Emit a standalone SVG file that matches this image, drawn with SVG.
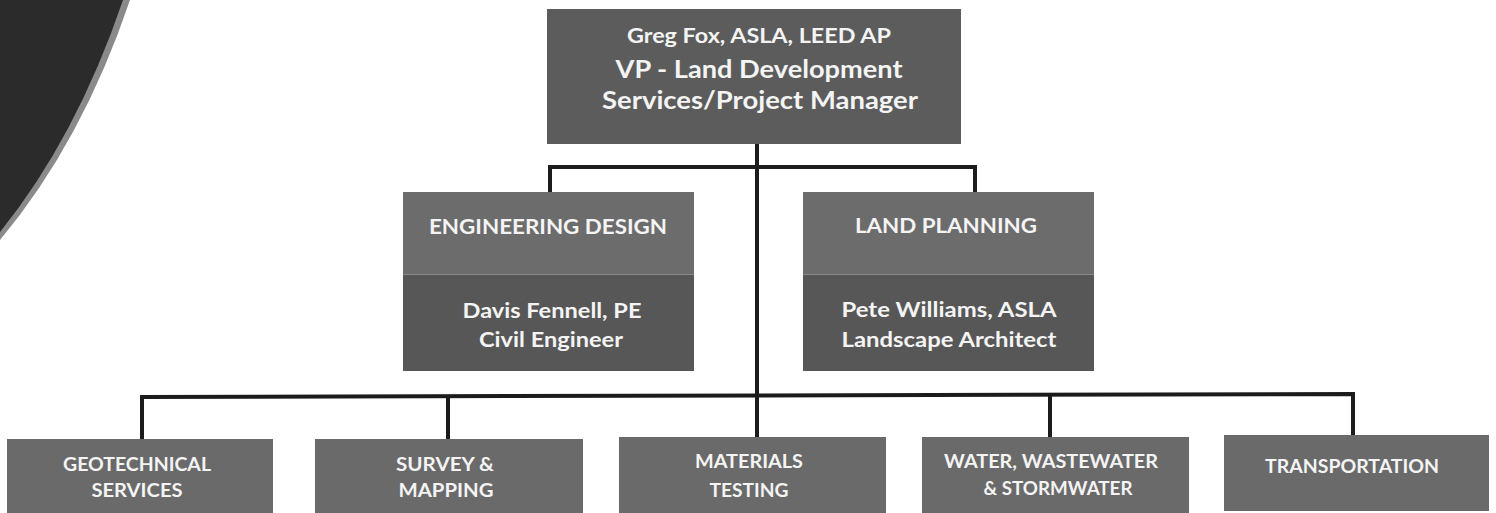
<svg xmlns="http://www.w3.org/2000/svg" width="1496" height="513" viewBox="0 0 1496 513">
<style>
.t{font-family:Lato,"Liberation Sans",sans-serif;font-weight:bold;fill:#f4f4f4;text-anchor:middle}
.s{font-size:19.5px}
.box{fill:#6a6a6a}
.hd{fill:#6c6c6c}
.bd{fill:#575757}
.ln{stroke:#1c1c1c;stroke-width:4;fill:none;stroke-linecap:square}
</style>
<rect width="1496" height="513" fill="#ffffff"/>
<g id="corner">
<path d="M0,0 L130,0 Q82,142 0,240 Z" fill="#8a8a8a"/>
<path d="M0,0 L123,0 Q76,138 0,232 Z" fill="#2b2b2b"/>
</g>
<g id="connectors">
<line class="ln" x1="757" y1="144" x2="757" y2="437"/>
<polyline class="ln" points="550,192 550,167 975,167 975,192"/>
<polyline class="ln" points="142,439 142,397 1353,394 1353,435"/>
<line class="ln" x1="448" y1="397" x2="448" y2="439"/>
<line class="ln" x1="1050" y1="395" x2="1050" y2="437"/>
</g>
<g id="greg-fox">
<rect x="547" y="9" width="414" height="135" fill="#5c5c5c"/>
<text class="t" x="759" y="43" font-size="21.5" textLength="264" lengthAdjust="spacingAndGlyphs">Greg Fox, ASLA, LEED AP</text>
<text class="t" x="759" y="78" font-size="24" textLength="287" lengthAdjust="spacingAndGlyphs">VP - Land Development</text>
<text class="t" x="760" y="109" font-size="24" textLength="316" lengthAdjust="spacingAndGlyphs">Services/Project Manager</text>
</g>
<g id="engineering-design">
<rect class="hd" x="403" y="192" width="291" height="82"/>
<rect class="bd" x="403" y="274" width="291" height="97"/>
<line x1="403" y1="274.5" x2="694" y2="274.5" stroke="#8a8a8a" stroke-width="1"/>
<text class="t" x="548" y="234" font-size="20.5" textLength="238" lengthAdjust="spacingAndGlyphs">ENGINEERING DESIGN</text>
<text class="t" x="552" y="318" font-size="21.5" textLength="179" lengthAdjust="spacingAndGlyphs">Davis Fennell, PE</text>
<text class="t" x="551" y="347" font-size="21.5" textLength="144" lengthAdjust="spacingAndGlyphs">Civil Engineer</text>
</g>
<g id="land-planning">
<rect class="hd" x="803" y="192" width="291" height="82"/>
<rect class="bd" x="803" y="274" width="291" height="97"/>
<line x1="803" y1="274.5" x2="1094" y2="274.5" stroke="#8a8a8a" stroke-width="1"/>
<text class="t" x="946" y="233" font-size="20.5" textLength="182" lengthAdjust="spacingAndGlyphs">LAND PLANNING</text>
<text class="t" x="949" y="317" font-size="21.5" textLength="215" lengthAdjust="spacingAndGlyphs">Pete Williams, ASLA</text>
<text class="t" x="949" y="347" font-size="21.5" textLength="215" lengthAdjust="spacingAndGlyphs">Landscape Architect</text>
</g>
<g id="geotechnical">
<rect class="box" x="7" y="439" width="266" height="74"/>
<text class="t s" x="137" y="471" textLength="148" lengthAdjust="spacingAndGlyphs">GEOTECHNICAL</text>
<text class="t s" x="137" y="497" textLength="91" lengthAdjust="spacingAndGlyphs">SERVICES</text>
</g>
<g id="survey">
<rect class="box" x="315" y="439" width="268" height="74"/>
<text class="t s" x="445" y="471" textLength="98" lengthAdjust="spacingAndGlyphs">SURVEY &amp;</text>
<text class="t s" x="446" y="497" textLength="95" lengthAdjust="spacingAndGlyphs">MAPPING</text>
</g>
<g id="materials">
<rect class="box" x="619" y="437" width="267" height="76"/>
<text class="t s" x="749" y="468" textLength="108" lengthAdjust="spacingAndGlyphs">MATERIALS</text>
<text class="t s" x="749" y="497" textLength="79" lengthAdjust="spacingAndGlyphs">TESTING</text>
</g>
<g id="water">
<rect class="box" x="922" y="437" width="267" height="76"/>
<text class="t s" x="1051" y="468" textLength="214" lengthAdjust="spacingAndGlyphs">WATER, WASTEWATER</text>
<text class="t s" x="1058" y="495" textLength="149" lengthAdjust="spacingAndGlyphs">&amp; STORMWATER</text>
</g>
<g id="transportation">
<rect class="box" x="1224" y="435" width="265" height="76"/>
<text class="t s" x="1352" y="473" textLength="174" lengthAdjust="spacingAndGlyphs">TRANSPORTATION</text>
</g>
</svg>
